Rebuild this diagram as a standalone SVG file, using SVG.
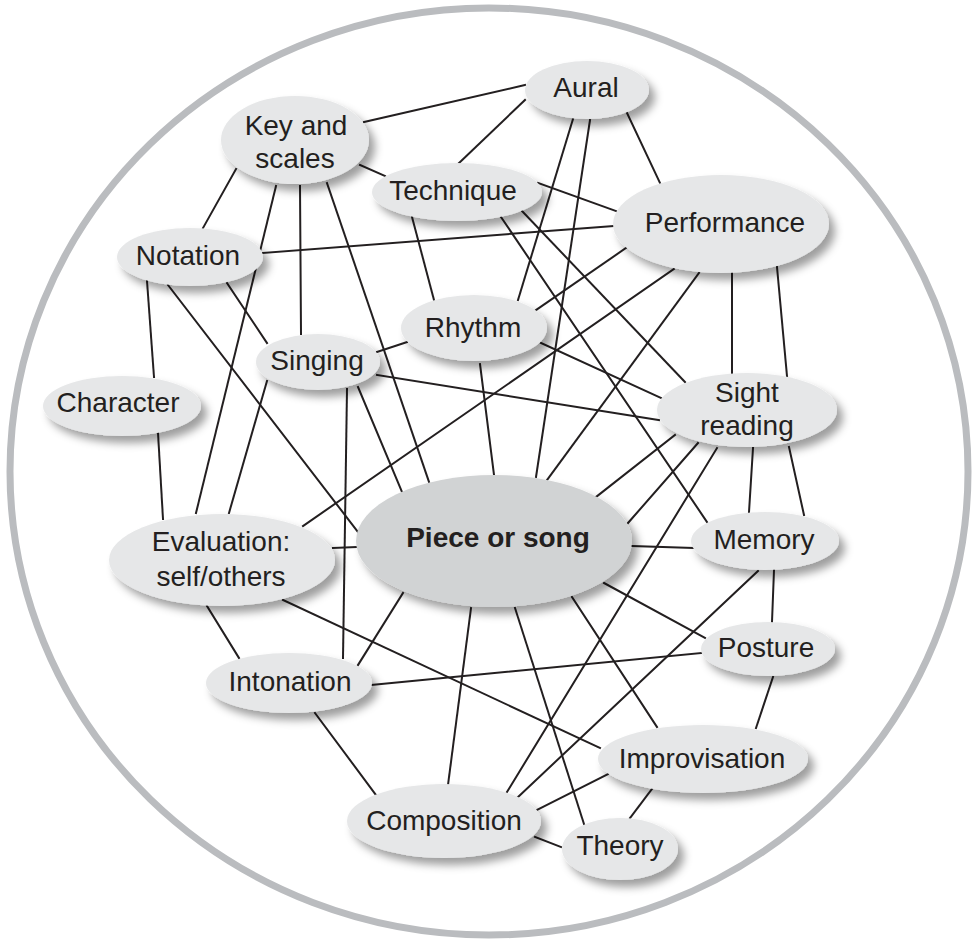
<svg xmlns="http://www.w3.org/2000/svg" width="977" height="939" viewBox="0 0 977 939">
<defs>
<filter id="sh" x="-20%" y="-30%" width="150%" height="170%">
<feDropShadow dx="6" dy="7" stdDeviation="4.5" flood-color="#000" flood-opacity="0.38"/>
</filter>
<style>
.n{fill:#e6e7e8;filter:url(#sh)}
.c{fill:#d1d3d4;filter:url(#sh)}
text{font-family:"Liberation Sans",Arial,sans-serif;font-size:28px;fill:#231f20;text-anchor:middle}
.b{font-weight:bold}
#edges line{stroke:#231f20;stroke-width:2;stroke-linecap:square}
</style>
</defs>
<rect width="977" height="939" fill="#fff"/>
<ellipse cx="489" cy="471.5" rx="479" ry="463.5" fill="none" stroke="#babcbf" stroke-width="7"/>
<g id="edges">
<line x1="364" y1="122" x2="525" y2="85"/>
<line x1="360" y1="165" x2="385" y2="176"/>
<line x1="236" y1="169" x2="203" y2="228"/>
<line x1="276" y1="186" x2="196" y2="513"/>
<line x1="300" y1="186" x2="301" y2="334"/>
<line x1="327" y1="183" x2="429" y2="482"/>
<line x1="525" y1="100" x2="459" y2="163"/>
<line x1="573" y1="119" x2="518" y2="300"/>
<line x1="590" y1="120" x2="536" y2="477"/>
<line x1="627" y1="113" x2="660" y2="183"/>
<line x1="538" y1="183" x2="616" y2="211"/>
<line x1="412" y1="217" x2="434" y2="300"/>
<line x1="522" y1="211" x2="685" y2="382"/>
<line x1="501" y1="217" x2="707" y2="522"/>
<line x1="263" y1="253" x2="613" y2="226"/>
<line x1="147" y1="281" x2="154" y2="377"/>
<line x1="227" y1="283" x2="267" y2="343"/>
<line x1="168" y1="285" x2="358" y2="532"/>
<line x1="377" y1="352" x2="407" y2="342"/>
<line x1="377" y1="375" x2="659" y2="420"/>
<line x1="267" y1="381" x2="229" y2="513"/>
<line x1="347" y1="389" x2="343" y2="658"/>
<line x1="358" y1="387" x2="402" y2="492"/>
<line x1="158" y1="433" x2="163" y2="519"/>
<line x1="626" y1="248" x2="536" y2="310"/>
<line x1="674" y1="269" x2="303" y2="526"/>
<line x1="699" y1="273" x2="547" y2="480"/>
<line x1="732" y1="273" x2="732" y2="373"/>
<line x1="777" y1="267" x2="787" y2="376"/>
<line x1="541" y1="343" x2="661" y2="398"/>
<line x1="480" y1="364" x2="494" y2="475"/>
<line x1="675" y1="435" x2="596" y2="497"/>
<line x1="698" y1="443" x2="628" y2="523"/>
<line x1="717" y1="448" x2="507" y2="792"/>
<line x1="753" y1="448" x2="749" y2="512"/>
<line x1="789" y1="447" x2="804" y2="515"/>
<line x1="632" y1="546" x2="693" y2="548"/>
<line x1="604" y1="583" x2="705" y2="638"/>
<line x1="774" y1="570" x2="772" y2="622"/>
<line x1="758" y1="571" x2="518" y2="797"/>
<line x1="701" y1="653" x2="372" y2="685"/>
<line x1="773" y1="677" x2="756" y2="728"/>
<line x1="572" y1="597" x2="657" y2="727"/>
<line x1="515" y1="608" x2="584" y2="824"/>
<line x1="471" y1="608" x2="448" y2="785"/>
<line x1="403" y1="593" x2="358" y2="665"/>
<line x1="333" y1="548" x2="356" y2="547"/>
<line x1="207" y1="606" x2="239" y2="658"/>
<line x1="283" y1="600" x2="600" y2="748"/>
<line x1="315" y1="713" x2="376" y2="795"/>
<line x1="608" y1="774" x2="537" y2="810"/>
<line x1="652" y1="789" x2="630" y2="818"/>
<line x1="535" y1="837" x2="561" y2="847"/>
</g>
<g id="key"><ellipse class="n" cx="295" cy="140" rx="74" ry="44"/><text x="296" y="135">Key and</text><text x="295" y="168">scales</text></g>
<g id="aural"><ellipse class="n" cx="587" cy="90" rx="62" ry="29"/><text x="586" y="97">Aural</text></g>
<g id="technique"><ellipse class="n" cx="457" cy="192" rx="85" ry="29"/><text x="453" y="200">Technique</text></g>
<g id="performance"><ellipse class="n" cx="721" cy="224" rx="108" ry="49"/><text x="725" y="232">Performance</text></g>
<g id="notation"><ellipse class="n" cx="190" cy="257" rx="73" ry="29"/><text x="188" y="265">Notation</text></g>
<g id="singing"><ellipse class="n" cx="318" cy="362" rx="62" ry="28"/><text x="317" y="370">Singing</text></g>
<g id="rhythm"><ellipse class="n" cx="474" cy="328" rx="73" ry="33"/><text x="473" y="337">Rhythm</text></g>
<g id="character"><ellipse class="n" cx="122" cy="406" rx="79" ry="30"/><text x="118" y="412">Character</text></g>
<g id="sight"><ellipse class="n" cx="747" cy="410" rx="90" ry="37"/><text x="747" y="402">Sight</text><text x="747" y="435">reading</text></g>
<g id="piece"><ellipse class="c" cx="494" cy="541" rx="138" ry="66"/><text class="b" x="498" y="547">Piece or song</text></g>
<g id="evaluation"><ellipse class="n" cx="222" cy="560" rx="113" ry="46"/><text x="221" y="551">Evaluation:</text><text x="221" y="586">self/others</text></g>
<g id="memory"><ellipse class="n" cx="765" cy="541" rx="74" ry="29"/><text x="764" y="549">Memory</text></g>
<g id="posture"><ellipse class="n" cx="768" cy="649" rx="67" ry="27"/><text x="766" y="657">Posture</text></g>
<g id="intonation"><ellipse class="n" cx="289" cy="683" rx="83" ry="30"/><text x="290" y="691">Intonation</text></g>
<g id="improvisation"><ellipse class="n" cx="703" cy="759" rx="105" ry="34"/><text x="702" y="768">Improvisation</text></g>
<g id="composition"><ellipse class="n" cx="444" cy="821" rx="97" ry="37"/><text x="444" y="830">Composition</text></g>
<g id="theory"><ellipse class="n" cx="620" cy="849" rx="58" ry="31"/><text x="620" y="855">Theory</text></g>
</svg>
